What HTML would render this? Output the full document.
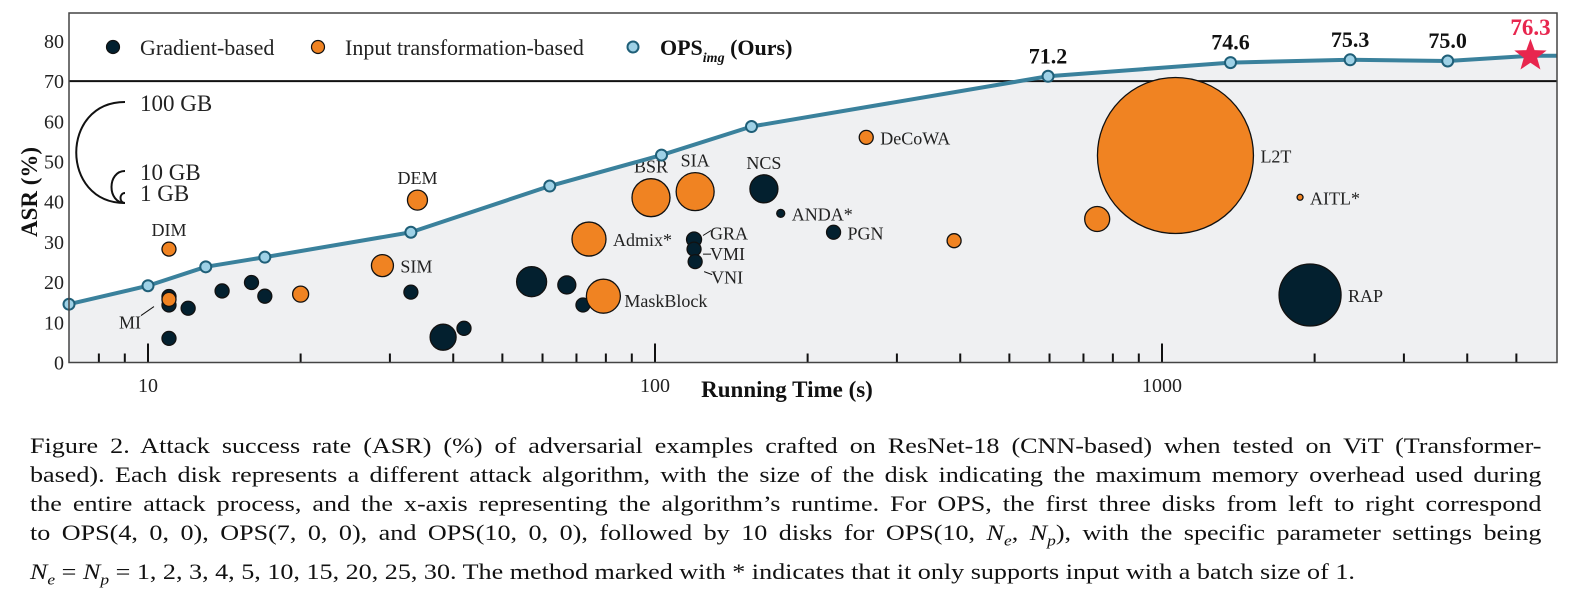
<!DOCTYPE html>
<html><head><meta charset="utf-8">
<style>
body{margin:0;background:#fff;width:1572px;height:611px;overflow:hidden;font-family:"Liberation Serif",serif;}
#cap{position:absolute;left:30px;top:431px;width:1303px;font-size:22.5px;line-height:29px;color:#111;transform:scaleX(1.16);transform-origin:0 0;}
#cap div{text-align:justify;text-align-last:justify;white-space:nowrap;}
#cap div.last{text-align-last:left;}
</style></head>
<body>
<svg id="chart" width="1572" height="420" style="position:absolute;left:0;top:0" font-family="Liberation Serif, serif"></svg>
<div id="cap">
<div>Figure 2. Attack success rate (ASR) (%) of adversarial examples crafted on ResNet-18 (CNN-based) when tested on ViT (Transformer-</div>
<div>based). Each disk represents a different attack algorithm, with the size of the disk indicating the maximum memory overhead used during</div>
<div>the entire attack process, and the x-axis representing the algorithm’s runtime. For OPS, the first three disks from left to right correspond</div>
<div>to OPS(4, 0, 0), OPS(7, 0, 0), and OPS(10, 0, 0), followed by 10 disks for OPS(10, <i>N<sub style="font-size:15px">e</sub></i>, <i>N<sub style="font-size:15px">p</sub></i>), with the specific parameter settings being</div>
<div class="last"><i>N<sub style="font-size:15px">e</sub></i> = <i>N<sub style="font-size:15px">p</sub></i> = 1, 2, 3, 4, 5, 10, 15, 20, 25, 30. The method marked with * indicates that it only supports input with a batch size of 1.</div>
</div>
<script>
// OPS series
const opsTime=[7.0,10,13.0,17.0,33.0,62.0,103,155,596,1365,2350,3660,5330];
const opsAsr=[14.5,19.1,23.8,26.2,32.4,43.9,51.6,58.7,71.2,74.6,75.3,75.0,76.3];
const opsLabelIdx=[8,9,10,11];
// bubbles
const bubName=["MI","","","","","","","","","","","","","GRA","VMI","VNI","NCS","ANDA*","PGN","RAP",
 "DIM","","","SIM","DEM","Admix*","MaskBlock","BSR","SIA","DeCoWA","","","L2T","AITL*"];
const bubTime=[11.0,11.0,11.0,12.0,14.0,16.0,17.0,33.0,38.2,42.0,57.1,67.0,72.1,119.4,119.4,120,164,177,225,1959,
 11.0,11.0,20.0,29.0,34.0,74.1,79.1,98.2,120,261,389,745,1063,1872];
const bubAsr=[16.4,14.3,6.0,13.5,17.8,19.9,16.5,17.5,6.3,8.5,20.1,19.3,14.3,30.6,28.2,25.1,43.2,37.1,32.4,16.8,
 28.2,15.7,17.0,24.1,40.4,30.7,16.5,41.0,42.5,56.0,30.3,35.7,51.5,41.1];
const bubMemR=[7,7,7,7,7,7,7,7,13,7,15,9,7,7.5,7,7,14,4,7,31,
 7,7,8,11,10,17,17,19,19,7,7,12.5,78,3];
const bubType=["g","g","g","g","g","g","g","g","g","g","g","g","g","g","g","g","g","g","g","g",
 "o","o","o","o","o","o","o","o","o","o","o","o","o","o"];
const yTicks=[0,10,20,30,40,50,60,70,80];
const xMajor=[10,100,1000];
const xMinor=[8,9,20,30,40,50,60,70,80,90,200,300,400,500,600,700,800,900,2000,3000,4000,5000];

const NS="http://www.w3.org/2000/svg",svg=document.getElementById('chart');
const L=69,R=1557,T=13,B=362.5;
const X=t=>148+(Math.log10(t)-1)*507;
const Y=v=>B-v*4.02;
function el(tag,a,parent){const e=document.createElementNS(NS,tag);for(const k in a)e.setAttribute(k,a[k]);(parent||svg).appendChild(e);return e;}
function txt(s,a){const e=el('text',a);e.textContent=s;return e;}

let pts=opsTime.map((t,i)=>[X(t),Y(opsAsr[i])]);
pts[0][0]=L;
const endPt=[R,Y(opsAsr[opsAsr.length-1])];
let d='M'+L+','+B+' '+pts.map(p=>'L'+p[0]+','+p[1]).join(' ')+' L'+endPt[0]+','+endPt[1]+' L'+R+','+B+' Z';
let f=el('path',{d:d,fill:'#eff0f2'});



let sep=el('line',{x1:L,x2:R,y1:Y(70),y2:Y(70),stroke:'#111','stroke-width':2});



xMajor.concat(xMinor).forEach(t=>{
 const maj=xMajor.includes(t);
 const tk=el('line',{x1:X(t),x2:X(t),y1:B,y2:B-(maj?19:9),stroke:'#111','stroke-width':2});
 
 
});
xMajor.forEach(t=>{
 const l=txt(String(t),{x:X(t),y:392,'text-anchor':'middle','font-size':20,fill:'#222'});
 
 
});
yTicks.forEach(v=>{
 const l=txt(String(v),{x:64,y:Y(v)+7,'text-anchor':'end','font-size':20,fill:'#222'});
 
 
});
let xt=txt('Running Time (s)',{x:787,y:397,'text-anchor':'middle','font-size':23,'font-weight':'bold',fill:'#111'});


let yt=txt('ASR (%)',{x:0,y:0,transform:'translate(37,192) rotate(-90)','text-anchor':'middle','font-size':23,'font-weight':'bold',fill:'#111'});



const offs={"MI":[-40,24],"GRA":[16,-6],"VMI":[16,5],"VNI":[16,16],"DIM":[0,-16],"DEM":[0,-16],"BSR":[0,-16],"SIA":[0,-16],"NCS":[0,-16]};
bubTime.forEach((t,i)=>{
 const cx=X(t),cy=Y(bubAsr[i]),r=bubMemR[i];
 const c=el('circle',{cx:cx,cy:cy,r:r,fill:bubType[i]=='g'?'#03202f':'#f08322',stroke:'#111','stroke-width':1.3});
 
 
 const n=bubName[i];if(!n)return;
 let lx,ly,anchor='start';
 if(offs[n]&&['DIM','DEM','BSR','SIA','NCS'].includes(n)){lx=cx;ly=cy-r-6;anchor='middle';}
 else if(n=='MI'){lx=cx-50;ly=cy+32;
   const ln=el('line',{x1:cx-28,y1:cy+19,x2:cx-15,y2:cy+10,stroke:'#111','stroke-width':1});
   
   }
 else if(offs[n]){lx=cx+offs[n][0];ly=cy+offs[n][1]+6;
   const ln=el('line',{x1:cx+9,y1:cy+offs[n][1]+(n=='GRA'?2:n=='VNI'?-6:0),x2:cx+17,y2:cy+offs[n][1]+(n=='GRA'?-3:n=='VNI'?-3:0),stroke:'#111','stroke-width':1});
   
   }
 else {lx=cx+r+7;ly=cy+7;if(n=='MaskBlock'){ly=cy+11;lx=cx+r+4;}}
 const lb=txt(n,{x:lx,y:ly,'text-anchor':anchor,'font-size':18,fill:'#222'});
 
 
});

let ln=el('polyline',{points:pts.map(p=>p.join(',')).join(' ')+' '+endPt.join(','),fill:'none',stroke:'#3a819c','stroke-width':4,'stroke-linejoin':'round'});


pts.forEach((p,i)=>{
 if(i==pts.length-1){
  let s='';for(let k=0;k<10;k++){const a=-Math.PI/2+k*Math.PI/5,rr=k%2?7:17;s+=(p[0]+rr*Math.cos(a))+','+(p[1]+rr*Math.sin(a))+' ';}
  const st=el('polygon',{points:s,fill:'#e8264e'});
  
  
  const l=txt(opsAsr[i].toFixed(1),{x:p[0],y:p[1]-21,'text-anchor':'middle','font-size':23,'font-weight':'bold',fill:'#e8264e'});
  
  
  return;}
 const m=el('circle',{cx:p[0],cy:p[1],r:5.5,fill:'#9ed1e6',stroke:'#1f5f78','stroke-width':2});
 
 
 if(opsLabelIdx.includes(i)){
  const l=txt(opsAsr[i].toFixed(1),{x:p[0],y:p[1]-13,'text-anchor':'middle','font-size':22,'font-weight':'bold',fill:'#111'});
  
  
 }
});

let fr=el('rect',{x:L,y:T,width:R-L,height:B-T,fill:'none',stroke:'#444','stroke-width':1.5});



[[113,'#03202f','#111','Gradient-based',140,'legend-gradient'],[318,'#f08322','#111','Input transformation-based',345,'legend-input-transformation']].forEach(a=>{
 const c=el('circle',{cx:a[0],cy:47,r:6.5,fill:a[1],stroke:a[2],'stroke-width':1.2});
 
 
 const t=txt(a[3],{x:a[4],y:55,'font-size':22,fill:'#222'});
 
 
});
let oc=el('circle',{cx:633,cy:47,r:5.5,fill:'#9ed1e6',stroke:'#1f5f78','stroke-width':2});


let ot=el('text',{x:660,y:55,'font-size':22,'font-weight':'bold',fill:'#111'});
ot.innerHTML='OPS<tspan font-size="14" font-style="italic" dy="7">img</tspan><tspan dy="-7"> (Ours)</tspan>';



let g=el('g',{});


el('path',{d:'M125,102 C60,102 60,203 125,203',fill:'none',stroke:'#111','stroke-width':2},g);
el('path',{d:'M125,171 C107,171 107,203 125,203',fill:'none',stroke:'#111','stroke-width':2},g);
el('path',{d:'M125,193 C119,193 119,203 125,203',fill:'none',stroke:'#111','stroke-width':2},g);
[['100 GB',111],['10 GB',180],['1 GB',201]].forEach(a=>{const t=el('text',{x:140,y:a[1],'font-size':23,fill:'#222'},g);t.textContent=a[0];});
</script>
</body></html>
